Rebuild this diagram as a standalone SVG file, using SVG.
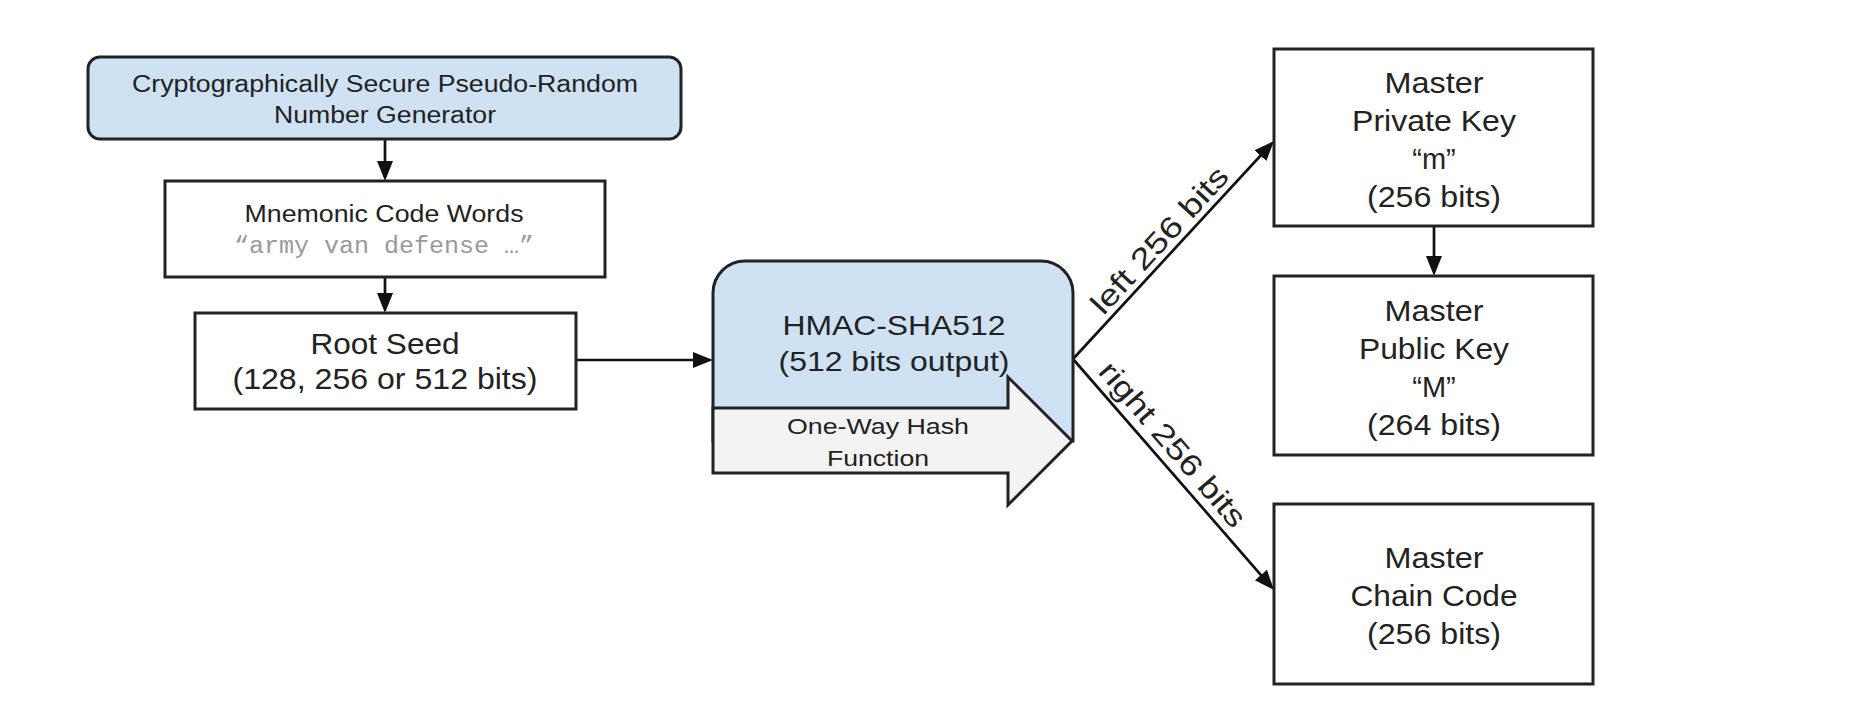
<svg xmlns="http://www.w3.org/2000/svg" width="1874" height="722" viewBox="0 0 1874 722">
<style>
.box{fill:#fff;stroke:#222;stroke-width:3}
.blue{fill:#cfe2f3;stroke:#222;stroke-width:3}
.grey{fill:#f3f3f3;stroke:#222;stroke-width:3;stroke-linejoin:miter}
.t{font-family:"Liberation Sans",Arial,sans-serif;fill:#222;text-anchor:middle}
.mono{font-family:"Liberation Mono","Courier New",monospace;fill:#999;text-anchor:middle}
.c{stroke:#111;stroke-width:2.7;fill:none;marker-end:url(#ah)}
</style>
<defs>
<marker id="ah" markerUnits="userSpaceOnUse" markerWidth="22" markerHeight="18" refX="16" refY="8" orient="auto">
<path d="M0,0 L20,8 L0,16 z" fill="#111"/>
</marker>
</defs>
<rect width="1874" height="722" fill="#fff"/>

<g id="connectors">
<line class="c" x1="385" y1="139" x2="385" y2="177"/>
<line class="c" x1="385" y1="277" x2="385" y2="309"/>
<line class="c" x1="576" y1="360" x2="709" y2="360"/>
<line class="c" x1="1434" y1="226" x2="1434" y2="272"/>
<line class="c" x1="1073" y1="359" x2="1271.3" y2="143.9"/>
<line class="c" x1="1073" y1="359" x2="1271.4" y2="587"/>
<text class="t" font-size="30" textLength="188" lengthAdjust="spacingAndGlyphs" transform="translate(1167,247) rotate(-47.5)">left 256 bits</text>
<text class="t" font-size="30" textLength="208" lengthAdjust="spacingAndGlyphs" transform="translate(1165,451) rotate(49.2)">right 256 bits</text>
</g>

<g id="csprng">
<rect class="blue" x="88" y="57" width="593" height="82" rx="12" ry="12"/>
<text class="t" font-size="23.5" x="385" y="92" textLength="506" lengthAdjust="spacingAndGlyphs">Cryptographically Secure Pseudo-Random</text>
<text class="t" font-size="23.5" x="385" y="123" textLength="222" lengthAdjust="spacingAndGlyphs">Number Generator</text>
</g>

<g id="mnemonic">
<rect class="box" x="165" y="181" width="440" height="96"/>
<text class="t" font-size="23.5" x="384" y="222" textLength="279" lengthAdjust="spacingAndGlyphs">Mnemonic Code Words</text>
<text class="mono" font-size="23" x="384" y="253" textLength="300" lengthAdjust="spacingAndGlyphs">“army van defense …”</text>
</g>

<g id="rootseed">
<rect class="box" x="195" y="313" width="381" height="96"/>
<text class="t" font-size="29" x="385" y="354" textLength="149" lengthAdjust="spacingAndGlyphs">Root Seed</text>
<text class="t" font-size="29" x="385" y="389" textLength="305" lengthAdjust="spacingAndGlyphs">(128, 256 or 512 bits)</text>
</g>

<g id="hmac">
<path class="blue" d="M713,441 V293 A32,32 0 0 1 745,261 H1041 A32,32 0 0 1 1073,293 V441 Z"/>
<text class="t" font-size="28" x="894" y="335" textLength="223" lengthAdjust="spacingAndGlyphs">HMAC-SHA512</text>
<text class="t" font-size="28" x="894" y="371" textLength="231" lengthAdjust="spacingAndGlyphs">(512 bits output)</text>
</g>

<g id="hashfunction">
<polygon class="grey" points="713,408 1008,408 1008,377 1072,441 1008,505 1008,473 713,473"/>
<text class="t" font-size="22" x="878" y="434" textLength="182" lengthAdjust="spacingAndGlyphs">One-Way Hash</text>
<text class="t" font-size="22" x="878" y="466" textLength="102" lengthAdjust="spacingAndGlyphs">Function</text>
</g>

<g id="privatekey">
<rect class="box" x="1274" y="49" width="319" height="177"/>
<text class="t" font-size="29" x="1434" y="93" textLength="99" lengthAdjust="spacingAndGlyphs">Master</text>
<text class="t" font-size="29" x="1434" y="131" textLength="164" lengthAdjust="spacingAndGlyphs">Private Key</text>
<text class="t" font-size="29" x="1434" y="169">“m”</text>
<text class="t" font-size="29" x="1434" y="207" textLength="134" lengthAdjust="spacingAndGlyphs">(256 bits)</text>
</g>

<g id="publickey">
<rect class="box" x="1274" y="276" width="319" height="179"/>
<text class="t" font-size="29" x="1434" y="321" textLength="99" lengthAdjust="spacingAndGlyphs">Master</text>
<text class="t" font-size="29" x="1434" y="359" textLength="150" lengthAdjust="spacingAndGlyphs">Public Key</text>
<text class="t" font-size="29" x="1434" y="397">“M”</text>
<text class="t" font-size="29" x="1434" y="435" textLength="134" lengthAdjust="spacingAndGlyphs">(264 bits)</text>
</g>

<g id="chaincode">
<rect class="box" x="1274" y="504" width="319" height="180"/>
<text class="t" font-size="29" x="1434" y="568" textLength="99" lengthAdjust="spacingAndGlyphs">Master</text>
<text class="t" font-size="29" x="1434" y="606" textLength="167" lengthAdjust="spacingAndGlyphs">Chain Code</text>
<text class="t" font-size="29" x="1434" y="644" textLength="134" lengthAdjust="spacingAndGlyphs">(256 bits)</text>
</g>
</svg>
